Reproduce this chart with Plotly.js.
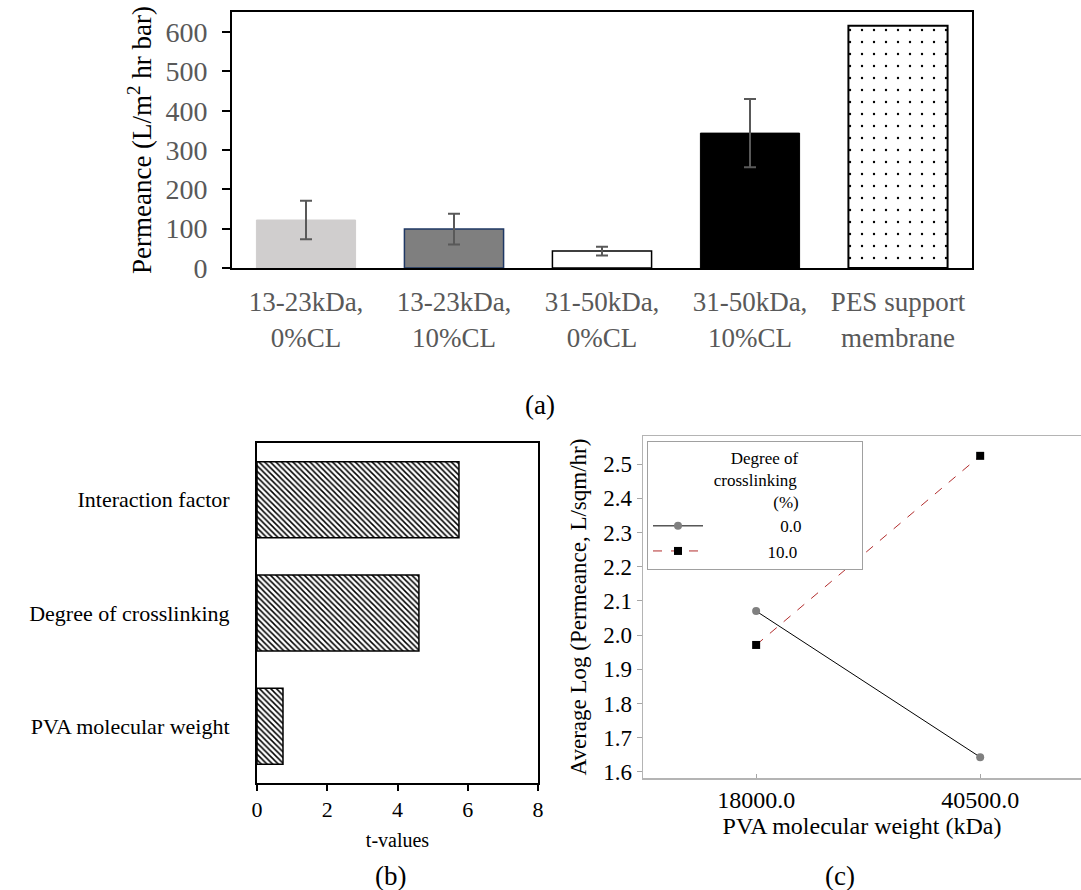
<!DOCTYPE html>
<html>
<head>
<meta charset="utf-8">
<script src="https://cdn.plot.ly/plotly-3.0.1.min.js"></script>
<style>
html,body{margin:0;padding:0;background:#fff;}
#chart{width:1081px;height:890px;}
</style>
</head>
<body>
<div id="chart"></div>
<script>
// ---------- Panel (a): permeance ----------
const membraneCats = ['13-23kDa,<br>0%CL', '13-23kDa,<br>10%CL', '31-50kDa,<br>0%CL', '31-50kDa,<br>10%CL', 'PES support<br>membrane'];
const permeance = [122, 99, 43, 343, 616];
const permeanceErr = [49, 39, 11, 87, NaN];
const yTicksA = [0, 100, 200, 300, 400, 500, 600];

// ---------- Panel (b): t-values ----------
const factors = ['PVA molecular weight', 'Degree of crosslinking', 'Interaction factor'];
const tValues = [0.74, 4.61, 5.75];
const xTicksB = [0, 2, 4, 6, 8];

// ---------- Panel (c): interaction plot ----------
const mwCats = ['18000.0', '40500.0'];
const logPerm0 = [2.070, 1.643];
const logPerm10 = [1.971, 2.524];
const yTicksC = [1.6, 1.7, 1.8, 1.9, 2.0, 2.1, 2.2, 2.3, 2.4, 2.5];

const serif = 'Liberation Serif';
const W = 1081, H = 890;
const px = v => v / W;
const py = v => 1 - v / H;
const nb = n => '\u00a0'.repeat(n);

const traces = [
  {
    type: 'bar', x: membraneCats.slice(0, 4), y: permeance.slice(0, 4), xaxis: 'x', yaxis: 'y', showlegend: false,
    marker: {
      color: ['#d0cece', '#7f7f7f', '#ffffff', '#000000'],
      line: { color: ['#d0cece', '#1f3864', '#000000', '#000000'], width: [1, 1.5, 1.5, 1] }
    },
    error_y: { type: 'data', array: permeanceErr.slice(0, 4), visible: true, color: '#595959', thickness: 2, width: 6 }
  },
  {
    type: 'bar', x: membraneCats.slice(4), y: permeance.slice(4), xaxis: 'x', yaxis: 'y', showlegend: false,
    marker: {
      color: '#ffffff',
      line: { color: '#000000', width: 2 },
      pattern: { shape: '.', size: 12, solidity: 0.03, fgcolor: '#000000', bgcolor: '#ffffff', fillmode: 'replace' }
    }
  },
  {
    type: 'bar', orientation: 'h', x: tValues, y: factors, xaxis: 'x2', yaxis: 'y2', showlegend: false,
    marker: {
      color: '#ffffff',
      line: { color: '#000000', width: 1.5 },
      pattern: { shape: '\\', size: 4, solidity: 0.38, fgcolor: '#000000', fillmode: 'replace' }
    }
  },
  {
    type: 'scatter', mode: 'lines+markers', x: mwCats, y: logPerm0, xaxis: 'x3', yaxis: 'y3',
    name: nb(17) + '0.0',
    line: { color: '#000000', width: 1 },
    marker: { symbol: 'circle', size: 8, color: '#808080' }
  },
  {
    type: 'scatter', mode: 'lines+markers', x: mwCats, y: logPerm10, xaxis: 'x3', yaxis: 'y3',
    name: nb(14) + '10.0' + nb(14),
    line: { color: '#b22d2d', width: 1, dash: 'dash' },
    marker: { symbol: 'square', size: 8, color: '#000000' }
  }
];

const layout = {
  width: W, height: H,
  margin: { l: 0, r: 0, t: 0, b: 0 },
  paper_bgcolor: '#ffffff', plot_bgcolor: '#ffffff',
  font: { family: serif, color: '#000000' },
  barmode: 'overlay',
  bargap: 0.33,
  // panel (a)
  xaxis: {
    domain: [px(232), px(972)], anchor: 'y', type: 'category', categoryarray: membraneCats, categoryorder: 'array',
    showline: true, linecolor: '#000000', linewidth: 2, mirror: true,
    ticks: '', showgrid: false, zeroline: false,
    tickfont: { family: serif, size: 27, color: '#595959' }, ticklabelstandoff: 9
  },
  yaxis: {
    domain: [py(268), py(12)], anchor: 'x', range: [0, 651],
    tickvals: yTicksA, ticks: 'outside', ticklen: 8, tickwidth: 2, tickcolor: '#000000',
    showline: true, linecolor: '#000000', linewidth: 2, mirror: true,
    showgrid: false, zeroline: false, ticklabelstandoff: 9,
    tickfont: { family: serif, size: 28, color: '#595959' },
    title: { text: 'Permeance (L/m<sup>2</sup> hr bar)', font: { family: serif, size: 27, color: '#000000' }, standoff: 6 }
  },
  // panel (b)
  xaxis2: {
    domain: [px(257), px(538)], anchor: 'y2', range: [0, 8],
    tickvals: xTicksB, ticks: 'outside', ticklen: 6, tickwidth: 2, tickcolor: '#000000',
    showline: true, linecolor: '#000000', linewidth: 2, mirror: true,
    showgrid: false, zeroline: false,
    tickfont: { family: serif, size: 22, color: '#000000' },
    title: { text: 't-values', font: { family: serif, size: 20, color: '#000000' }, standoff: 12 }
  },
  yaxis2: {
    domain: [py(783), py(443)], anchor: 'x2', type: 'category', range: [-0.5, 2.5],
    showline: true, linecolor: '#000000', linewidth: 2, mirror: true,
    ticks: '', showgrid: false, zeroline: false,
    tickfont: { family: serif, size: 22, color: '#000000' }, ticklabelstandoff: 21
  },
  // panel (c)
  xaxis3: {
    domain: [px(643), 1], anchor: 'y3', type: 'category', range: [-0.505, 1.45],
    ticks: 'inside', ticklen: 4, tickcolor: '#a6a6a6',
    showline: true, linecolor: '#b4b4b4', linewidth: 1.5, mirror: true,
    showgrid: false, zeroline: false,
    tickfont: { family: serif, size: 24, color: '#000000' },
    title: { text: 'PVA molecular weight (kDa)', font: { family: serif, size: 24, color: '#000000' }, standoff: 0 }
  },
  yaxis3: {
    domain: [py(778), py(436)], anchor: 'x3', range: [1.582, 2.582],
    tickvals: yTicksC, tickformat: '.1f', ticks: 'outside', ticklen: 5, tickcolor: '#a6a6a6',
    showline: true, linecolor: '#b4b4b4', linewidth: 1.5, mirror: true,
    showgrid: false, zeroline: false,
    tickfont: { family: serif, size: 23, color: '#000000' },
    title: { text: 'Average Log (Permeance, L/sqm/hr)', font: { family: serif, size: 23, color: '#000000' }, standoff: 10 }
  },
  showlegend: true,
  legend: {
    x: px(647), y: py(441), xanchor: 'left', yanchor: 'top',
    bgcolor: '#ffffff', bordercolor: '#a0a0a0', borderwidth: 1,
    font: { family: serif, size: 17, color: '#000000' },
    itemwidth: 50, tracegroupgap: 0,
    title: {
      text: nb(19) + 'Degree of<br>' + nb(15) + 'crosslinking<br>' + nb(29) + '(%)',
      font: { family: serif, size: 17, color: '#000000' }
    }
  },
  annotations: [
    { text: '(a)', xref: 'paper', yref: 'paper', x: px(540), y: py(405), xanchor: 'center', yanchor: 'middle', showarrow: false, font: { family: serif, size: 27, color: '#000000' } },
    { text: '(b)', xref: 'paper', yref: 'paper', x: px(390), y: py(876), xanchor: 'center', yanchor: 'middle', showarrow: false, font: { family: serif, size: 27, color: '#000000' } },
    { text: '(c)', xref: 'paper', yref: 'paper', x: px(840), y: py(876), xanchor: 'center', yanchor: 'middle', showarrow: false, font: { family: serif, size: 27, color: '#000000' } }
  ]
};

Plotly.newPlot('chart', traces, layout, { displayModeBar: false, staticPlot: true });
</script>
</body>
</html>
